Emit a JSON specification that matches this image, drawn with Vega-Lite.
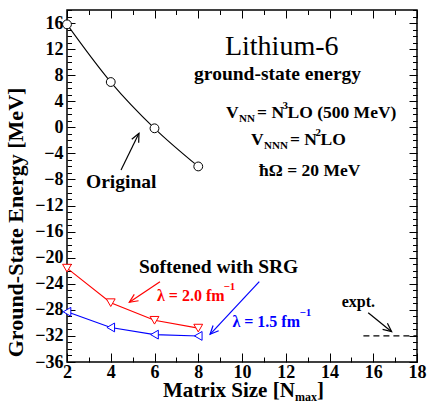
{
  "$schema": "https://vega.github.io/schema/vega-lite/v6.json",
  "width": 350,
  "height": 352,
  "autosize": {"type": "none"},
  "padding": {"left": 67, "top": 10, "right": 10, "bottom": 44},
  "background": "white",
  "config": {
    "font": "Liberation Serif, Times New Roman, serif",
    "view": {"stroke": "black", "strokeWidth": 1.5},
    "axis": {
      "domain": false,
      "grid": false,
      "tickColor": "black",
      "tickWidth": 1,
      "labelFont": "Liberation Serif, Times New Roman, serif",
      "labelFontSize": 18,
      "labelFontWeight": "bold",
      "labelColor": "black",
      "labelOverlap": false,
      "labelFlush": false,
      "labelPadding": 12,
      "titleFont": "Liberation Serif, Times New Roman, serif",
      "titleFontSize": 22,
      "titleFontWeight": "bold",
      "titleColor": "black"
    }
  },
  "datasets": {
    "energies": [
      {"series": "Original", "nmax": 2, "energy": 15.8},
      {"series": "Original", "nmax": 4, "energy": 6.95},
      {"series": "Original", "nmax": 6, "energy": -0.15},
      {"series": "Original", "nmax": 8, "energy": -6.0},
      {"series": "SRG 2.0", "nmax": 2, "energy": -21.6},
      {"series": "SRG 2.0", "nmax": 4, "energy": -26.9},
      {"series": "SRG 2.0", "nmax": 6, "energy": -29.6},
      {"series": "SRG 2.0", "nmax": 8, "energy": -30.8},
      {"series": "SRG 1.5", "nmax": 2, "energy": -28.3},
      {"series": "SRG 1.5", "nmax": 4, "energy": -30.7},
      {"series": "SRG 1.5", "nmax": 6, "energy": -31.8},
      {"series": "SRG 1.5", "nmax": 8, "energy": -32.0}
    ],
    "expt": [
      {"series": "expt.", "fromN": 15.55, "toN": 18, "energy": -32.0}
    ],
    "arrows": [
      {"series": "Original", "fromN": 4.47, "fromE": -6.55, "toN": 5.29, "toE": -0.92},
      {"series": "SRG 2.0", "fromN": 6.25, "fromE": -23.68, "toN": 4.85, "toE": -26.84},
      {"series": "SRG 1.5", "fromN": 10.79, "fromE": -23.68, "toN": 8.54, "toE": -31.75},
      {"series": "expt.", "fromN": 15.77, "fromE": -28.44, "toN": 16.84, "toE": -31.35}
    ],
    "notes": [
      {"kind": "heading", "series": "text", "text": "Lithium-6", "atN": 9.22, "atE": 11.10},
      {"kind": "subheading", "series": "text", "text": "ground-state energy", "atN": 7.81, "atE": 7.26},
      {"kind": "formula", "series": "text", "text": "V", "atN": 9.27, "atE": 1.43},
      {"kind": "script", "series": "text", "text": "NN", "atN": 9.86, "atE": 0.82},
      {"kind": "formula", "series": "text", "text": "= N", "atN": 10.69, "atE": 1.43},
      {"kind": "script", "series": "text", "text": "3", "atN": 11.85, "atE": 2.81},
      {"kind": "formula", "series": "text", "text": "LO (500 MeV)", "atN": 12.08, "atE": 1.43},
      {"kind": "formula", "series": "text", "text": "V", "atN": 10.41, "atE": -2.71},
      {"kind": "script", "series": "text", "text": "NNN", "atN": 11.01, "atE": -3.32},
      {"kind": "formula", "series": "text", "text": "= N", "atN": 12.19, "atE": -2.71},
      {"kind": "script", "series": "text", "text": "2", "atN": 13.36, "atE": -1.33},
      {"kind": "formula", "series": "text", "text": "LO", "atN": 13.59, "atE": -2.71},
      {"kind": "formula", "series": "text", "text": "ħΩ = 20 MeV", "atN": 10.78, "atE": -7.47},
      {"kind": "label", "series": "text", "text": "Original", "atN": 2.87, "atE": -9.35},
      {"kind": "label", "series": "text", "text": "Softened with SRG", "atN": 5.29, "atE": -22.35},
      {"kind": "note", "series": "SRG 2.0", "text": "λ = 2.0 fm", "atN": 6.11, "atE": -26.60},
      {"kind": "script", "series": "SRG 2.0", "text": "−1", "atN": 9.15, "atE": -24.95},
      {"kind": "note", "series": "SRG 1.5", "text": "λ = 1.5 fm", "atN": 9.56, "atE": -30.63},
      {"kind": "script", "series": "SRG 1.5", "text": "−1", "atN": 12.63, "atE": -28.94},
      {"kind": "note", "series": "text", "text": "expt.", "atN": 14.56, "atE": -27.52},
      {"kind": "axis title", "series": "text", "text": "Matrix Size [N", "atN": 6.39, "atE": -41.4},
      {"kind": "axis script", "series": "text", "text": "max", "atN": 12.42, "atE": -42.0},
      {"kind": "axis title", "series": "text", "text": "]", "atN": 13.43, "atE": -41.4}
    ]
  },
  "resolve": {"axis": {"x": "independent", "y": "independent"}},
  "layer": [
    {
      "data": {"name": "energies"},
      "transform": [{"filter": "datum.series === 'Original'"}],
      "mark": {"type": "line", "interpolate": "monotone", "color": "black", "strokeWidth": 1.1},
      "encoding": {
        "x": {
          "field": "nmax", "type": "quantitative",
          "scale": {"domain": [2, 18], "nice": false, "zero": false},
          "axis": {
            "orient": "bottom",
            "values": [2, 3, 4, 5, 6, 7, 8, 9, 10, 11, 12, 13, 14, 15, 16, 17, 18],
            "labelExpr": "datum.value % 2 === 0 ? datum.label : ''",
            "tickSize": {"condition": {"test": "datum.value % 2 === 0", "value": -9}, "value": -5},
            "labelPadding": 10.5,
            "title": null
          }
        },
        "y": {
          "field": "energy", "type": "quantitative",
          "scale": {"domain": [-36, 18], "nice": false, "zero": false},
          "axis": {
            "orient": "left",
            "values": [-36, -35, -34, -33, -32, -31, -30, -29, -28, -27, -26, -25, -24, -23, -22, -21, -20, -19, -18, -17, -16, -15, -14, -13, -12, -11, -10, -9, -8, -7, -6, -5, -4, -3, -2, -1, 0, 1, 2, 3, 4, 5, 6, 7, 8, 9, 10, 11, 12, 13, 14, 15, 16, 17, 18],
            "labelExpr": "datum.value % 4 === 0 ? datum.label : ''",
            "tickSize": {"condition": {"test": "datum.value % 4 === 0", "value": -8}, "value": -4.5},
            "labelPadding": 12,
            "title": "Ground-State Energy [MeV]",
            "titleAngle": -90,
            "titleX": -45,
            "titleY": 212,
            "titleAlign": "center",
            "titleBaseline": "alphabetic"
          }
        }
      }
    },
    {
      "data": {"name": "energies"},
      "transform": [{"filter": "datum.series !== 'Original'"}],
      "mark": {"type": "line", "strokeWidth": 1.1},
      "encoding": {
        "x": {"field": "nmax", "type": "quantitative", "scale": {"domain": [2, 18], "nice": false, "zero": false}, "axis": null},
        "y": {"field": "energy", "type": "quantitative", "scale": {"domain": [-36, 18], "nice": false, "zero": false}, "axis": null},
        "color": {
          "field": "series", "type": "nominal",
          "scale": {"domain": ["Original", "SRG 2.0", "SRG 1.5", "expt.", "text"], "range": ["black", "#ff0000", "#0000ff", "black", "black"]},
          "legend": null
        }
      }
    },
    {
      "data": {"name": "energies"},
      "mark": {"type": "point", "filled": true, "fill": "white", "size": 78, "strokeWidth": 1, "opacity": 1},
      "encoding": {
        "x": {"field": "nmax", "type": "quantitative", "scale": {"domain": [2, 18], "nice": false, "zero": false}, "axis": null},
        "y": {"field": "energy", "type": "quantitative", "scale": {"domain": [-36, 18], "nice": false, "zero": false}, "axis": null},
        "stroke": {
          "field": "series", "type": "nominal",
          "scale": {"domain": ["Original", "SRG 2.0", "SRG 1.5"], "range": ["black", "#ff0000", "#0000ff"]},
          "legend": null
        },
        "shape": {
          "field": "series", "type": "nominal",
          "scale": {"domain": ["Original", "SRG 2.0", "SRG 1.5"], "range": ["circle", "triangle-down", "triangle-left"]},
          "legend": null
        }
      }
    },
    {
      "data": {"name": "expt"},
      "mark": {"type": "rule", "color": "black", "strokeWidth": 1.2, "strokeDash": [6, 4]},
      "encoding": {
        "x": {
          "field": "fromN", "type": "quantitative",
          "scale": {"domain": [2, 18], "nice": false, "zero": false},
          "axis": {
            "orient": "top",
            "values": [2, 3, 4, 5, 6, 7, 8, 9, 10, 11, 12, 13, 14, 15, 16, 17, 18],
            "labels": false,
            "tickSize": {"condition": {"test": "datum.value % 2 === 0", "value": -8}, "value": -4.5},
            "title": null
          }
        },
        "x2": {"field": "toN"},
        "y": {
          "field": "energy", "type": "quantitative",
          "scale": {"domain": [-36, 18], "nice": false, "zero": false},
          "axis": {
            "orient": "right",
            "values": [-36, -35, -34, -33, -32, -31, -30, -29, -28, -27, -26, -25, -24, -23, -22, -21, -20, -19, -18, -17, -16, -15, -14, -13, -12, -11, -10, -9, -8, -7, -6, -5, -4, -3, -2, -1, 0, 1, 2, 3, 4, 5, 6, 7, 8, 9, 10, 11, 12, 13, 14, 15, 16, 17, 18],
            "labels": false,
            "tickSize": {"condition": {"test": "datum.value % 4 === 0", "value": -8}, "value": -4.5},
            "title": null
          }
        }
      }
    },
    {
      "data": {"name": "arrows"},
      "mark": {"type": "rule", "strokeWidth": 1.2},
      "encoding": {
        "x": {"field": "fromN", "type": "quantitative", "scale": {"domain": [2, 18], "nice": false, "zero": false}, "axis": null},
        "y": {"field": "fromE", "type": "quantitative", "scale": {"domain": [-36, 18], "nice": false, "zero": false}, "axis": null},
        "x2": {"field": "toN"},
        "y2": {"field": "toE"},
        "color": {
          "field": "series", "type": "nominal",
          "scale": {"domain": ["Original", "SRG 2.0", "SRG 1.5", "expt.", "text"], "range": ["black", "#ff0000", "#0000ff", "black", "black"]},
          "legend": null
        }
      }
    },
    {
      "data": {"name": "arrows"},
      "mark": {
        "type": "point",
        "shape": "M-1,-0.45L0,0L-1,0.45",
        "filled": false,
        "size": 290,
        "strokeWidth": 1.2,
        "opacity": 1,
        "angle": {"expr": "atan2(scale('y', datum.toE) - scale('y', datum.fromE), scale('x', datum.toN) - scale('x', datum.fromN)) * 180 / PI"}
      },
      "encoding": {
        "x": {"field": "toN", "type": "quantitative", "scale": {"domain": [2, 18], "nice": false, "zero": false}, "axis": null},
        "y": {"field": "toE", "type": "quantitative", "scale": {"domain": [-36, 18], "nice": false, "zero": false}, "axis": null},
        "color": {
          "field": "series", "type": "nominal",
          "scale": {"domain": ["Original", "SRG 2.0", "SRG 1.5", "expt.", "text"], "range": ["black", "#ff0000", "#0000ff", "black", "black"]},
          "legend": null
        }
      }
    },
    {
      "data": {"name": "notes"},
      "transform": [{"filter": "datum.kind === 'heading'"}],
      "mark": {"type": "text", "align": "left", "baseline": "alphabetic", "font": "Liberation Serif, Times New Roman, serif", "fontWeight": "normal", "fontSize": 28, "color": "black"},
      "encoding": {
        "x": {"field": "atN", "type": "quantitative", "scale": {"domain": [2, 18], "nice": false, "zero": false}, "axis": null},
        "y": {"field": "atE", "type": "quantitative", "scale": {"domain": [-36, 18], "nice": false, "zero": false}, "axis": null},
        "text": {"field": "text"}
      }
    },
    {
      "data": {"name": "notes"},
      "transform": [{"filter": "datum.kind !== 'heading'"}],
      "mark": {"type": "text", "align": "left", "baseline": "alphabetic", "font": "Liberation Serif, Times New Roman, serif", "fontWeight": "bold"},
      "encoding": {
        "x": {"field": "atN", "type": "quantitative", "scale": {"domain": [2, 18], "nice": false, "zero": false}, "axis": null},
        "y": {"field": "atE", "type": "quantitative", "scale": {"domain": [-36, 18], "nice": false, "zero": false}, "axis": null},
        "text": {"field": "text"},
        "size": {
          "field": "kind", "type": "nominal",
          "scale": {"type": "ordinal", "domain": ["subheading", "label", "note", "formula", "script", "axis title", "axis script"], "range": [19.5, 19.5, 16, 17.5, 11, 21, 12]},
          "legend": null
        },
        "color": {
          "field": "series", "type": "nominal",
          "scale": {"domain": ["Original", "SRG 2.0", "SRG 1.5", "expt.", "text"], "range": ["black", "#ff0000", "#0000ff", "black", "black"]},
          "legend": null
        }
      }
    }
  ]
}
